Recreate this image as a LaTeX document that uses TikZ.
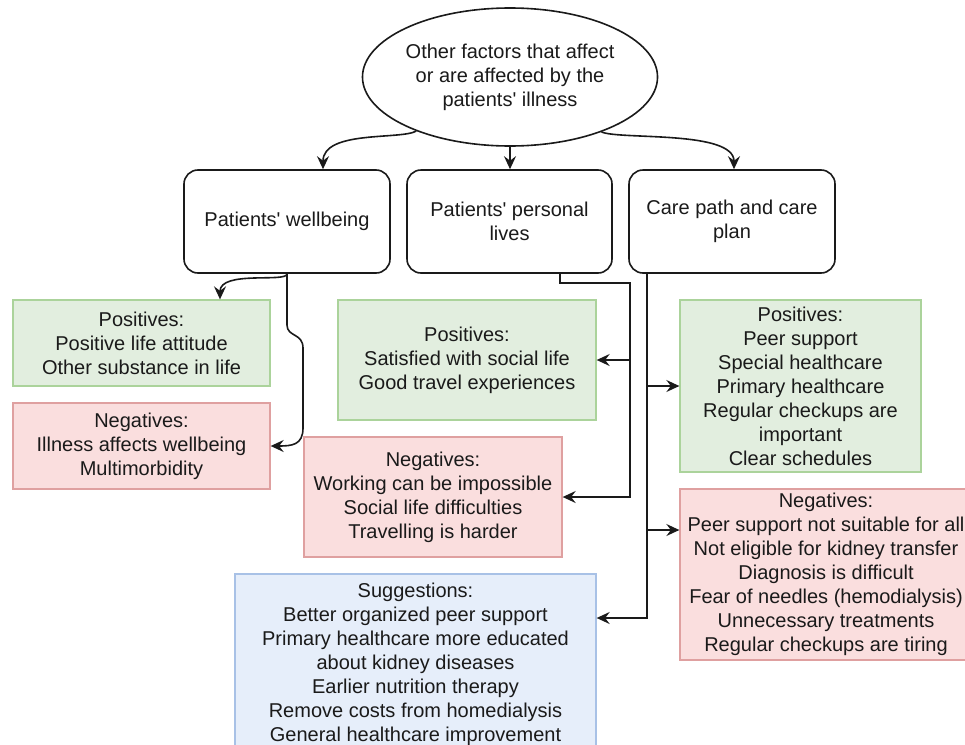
\documentclass[tikz,border=0pt]{standalone}
\usepackage{fontspec}
\setmainfont{Liberation Sans}
\usetikzlibrary{shapes.geometric,arrows.meta}

\definecolor{ink}{HTML}{1A1A1A}
\definecolor{posfill}{HTML}{E2EEDF}
\definecolor{posline}{HTML}{ABD39B}
\definecolor{negfill}{HTML}{FADEDE}
\definecolor{negline}{HTML}{DFA0A0}
\definecolor{sugfill}{HTML}{E6EEFA}
\definecolor{sugline}{HTML}{A8C1E6}

% straight apostrophe
\newcommand{\sq}{\textquotesingle}

\begin{document}
\begin{tikzpicture}[x=1pt,y=-1pt,
  every node/.style={font=\fontsize{20}{24}\selectfont, text=ink, align=center, inner sep=0pt},
  rootnode/.style={ellipse, draw=ink, line width=1.6pt, fill=white, minimum width=244pt, minimum height=138pt},
  topic/.style={rectangle, draw=ink, line width=1.6pt, rounded corners=14pt, fill=white, minimum width=206pt, minimum height=103pt},
  posbox/.style={rectangle, draw=posline, fill=posfill, line width=1.3pt},
  negbox/.style={rectangle, draw=negline, fill=negfill, line width=1.3pt},
  sugbox/.style={rectangle, draw=sugline, fill=sugfill, line width=1.3pt},
  arr/.style={draw=ink, line width=1.6pt, -{Stealth[length=13pt,width=12pt,inset=4.5pt]}}
]
\useasboundingbox (0,0) rectangle (965,744);

% central question and the three topics
\node[rootnode] (root) at (510,77) {Other factors that affect\\or are affected by the\\patients\sq{} illness};
\node[topic] (A) at (287,221.5) {Patients\sq{} wellbeing};
\node[topic, minimum width=205pt] (B) at (509.5,221.5) {Patients\sq{} personal\\lives};
\node[topic] (C) at (732,221.5) {Care path and care\\plan};

% wellbeing findings
\node[posbox, minimum width=257pt, minimum height=86pt] (apos) at (141.5,343) {Positives:\\Positive life attitude\\Other substance in life};
\node[negbox, minimum width=257pt, minimum height=86pt] (aneg) at (141.5,446) {Negatives:\\Illness affects wellbeing\\Multimorbidity};

% personal life findings
\node[posbox, minimum width=258pt, minimum height=120pt] (bpos) at (467,360) {Positives:\\Satisfied with social life\\Good travel experiences};
\node[negbox, minimum width=258pt, minimum height=120pt] (bneg) at (433,497) {Negatives:\\Working can be impossible\\Social life difficulties\\Travelling is harder};

% care path findings
\node[posbox, minimum width=241pt, minimum height=172pt] (cpos) at (800.5,386) {Positives:\\Peer support\\Special healthcare\\Primary healthcare\\Regular checkups are\\important\\Clear schedules};
\node[negbox, minimum width=292pt, minimum height=171pt] (cneg) at (826,574.5) {Negatives:\\Peer support not suitable for all\\Not eligible for kidney transfer\\Diagnosis is difficult\\Fear of needles (hemodialysis)\\Unnecessary treatments\\Regular checkups are tiring};
\node[sugbox, minimum width=361pt, minimum height=181pt] (sugg) at (415.5,664.5) {Suggestions:\\Better organized peer support\\Primary healthcare more educated\\about kidney diseases\\Earlier nutrition therapy\\Remove costs from homedialysis\\General healthcare improvement};

% from the question to the topics
\draw[arr] (root.210) .. controls (400,140) and (323,130) .. ([xshift=36pt]A.north);
\draw[arr] (root.south) -- (root.south |- B.north);
\draw[arr] (root.-31) .. controls (620,140) and (734,130) .. ([xshift=2pt]C.north);

% wellbeing branches
\draw[arr] (A.south) .. controls (287,283) and (220,270) .. ([xshift=78.5pt]apos.north);
\draw[arr] (A.south) -- (287,325) .. controls (287,337) and (303,333) .. (303,348)
  -- (303,428) .. controls (303,445) and (292,446) .. (aneg.east);

% personal life branches
\coordinate (bdrop) at ([xshift=50.5pt]B.south);
\coordinate (bjoin) at (630,283);
\draw[arr] (bdrop) |- (bjoin) |- (bneg.east);
\draw[arr] (bjoin |- bpos.east) -- (bpos.east);

% care path branches
\coordinate (cdrop) at ([xshift=-85pt]C.south);
\coordinate (cnegin) at ([yshift=44.5pt]cneg.west);
\draw[arr] (cdrop) |- ([yshift=46.5pt]sugg.east);
\draw[arr] (cdrop |- cpos.west) -- (cpos.west);
\draw[arr] (cdrop |- cnegin) -- (cnegin);
\end{tikzpicture}
\end{document}
